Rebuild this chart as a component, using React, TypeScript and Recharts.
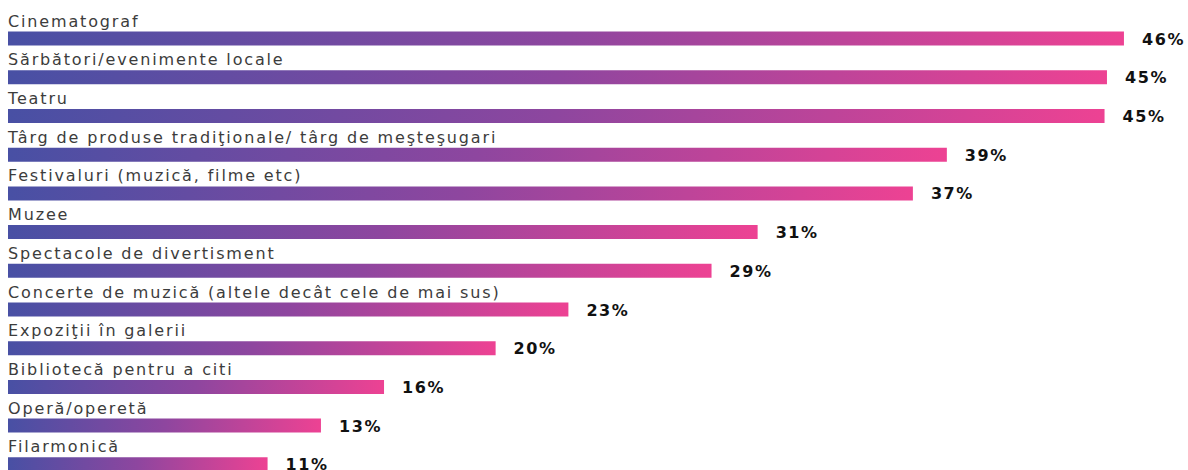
import React from "react";
import { BarChart, Bar, XAxis, YAxis, LabelList } from "recharts";

const categories = [
  "Cinematograf",
  "Sărbători/evenimente locale",
  "Teatru",
  "Târg de produse tradiţionale/ târg de meşteşugari",
  "Festivaluri (muzică, filme etc)",
  "Muzee",
  "Spectacole de divertisment",
  "Concerte de muzică (altele decât cele de mai sus)",
  "Expoziţii în galerii",
  "Bibliotecă pentru a citi",
  "Operă/operetă",
  "Filarmonică",
];
const values = [46, 45.3, 45.2, 38.7, 37.3, 30.9, 29.0, 23.1, 20.1, 15.5, 12.9, 10.7];
const valueLabels = ["46%", "45%", "45%", "39%", "37%", "31%", "29%", "23%", "20%", "16%", "13%", "11%"];

const data = categories.map((name, i) => ({ name, value: values[i], label: valueLabels[i] }));

const FONT = "'DejaVu Sans', sans-serif";

const NameLabel = (props: any) => {
  const { x, y, value } = props;
  return (
    <text x={x} y={y - 5} fill="#3c3c3c" fontSize={16} letterSpacing={1.85} fontFamily={FONT}>
      {value}
    </text>
  );
};

const ValueLabel = (props: any) => {
  const { x, y, width, height, value } = props;
  return (
    <text
      x={x + width + 18}
      y={y + height - 1}
      fill="#111"
      fontSize={16}
      letterSpacing={1.6}
      fontWeight="bold"
      fontFamily={FONT}
    >
      {value}
    </text>
  );
};

export default function App() {
  return (
    <div
      style={{
        position: "fixed",
        top: 0,
        left: 0,
        width: 1188,
        height: 470,
        overflow: "hidden",
        background: "#fff",
      }}
    >
      <BarChart
        layout="vertical"
        width={1188}
        height={490}
        data={data}
        margin={{ top: 19.6, right: 0, bottom: 6, left: 8 }}
        barCategoryGap={0}
      >
        <defs>
          <linearGradient id="barGrad" x1="0" y1="0" x2="1" y2="0">
            <stop offset="0%" stopColor="#4850a4" />
            <stop offset="50%" stopColor="#8e469f" />
            <stop offset="100%" stopColor="#ed4293" />
          </linearGradient>
        </defs>
        <XAxis type="number" hide domain={[0, 48.64]} />
        <YAxis type="category" dataKey="name" hide />
        <Bar dataKey="value" fill="url(#barGrad)" barSize={14} isAnimationActive={false}>
          <LabelList dataKey="name" content={NameLabel} />
          <LabelList dataKey="label" content={ValueLabel} />
        </Bar>
      </BarChart>
    </div>
  );
}
